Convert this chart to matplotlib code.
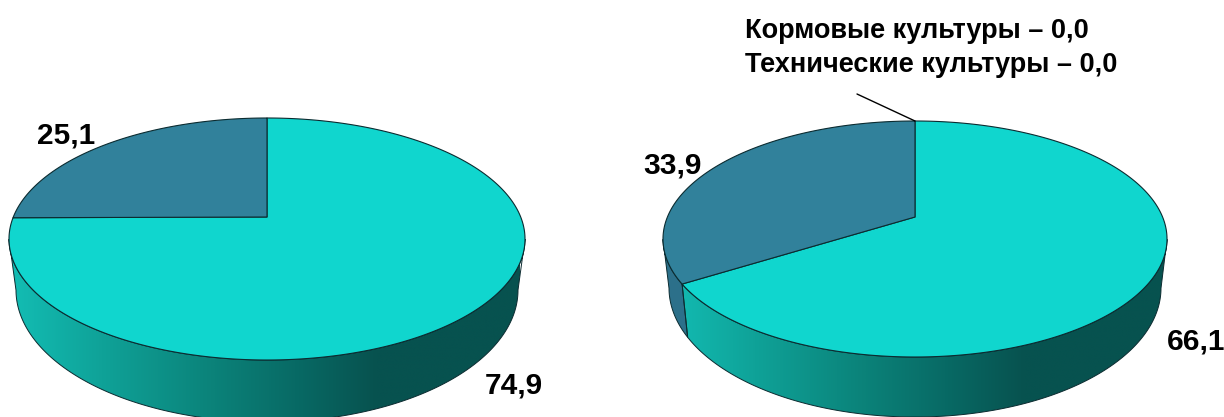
import numpy as np
import matplotlib
matplotlib.use("Agg")
import matplotlib.pyplot as plt
from matplotlib.colors import LinearSegmentedColormap
from matplotlib.patches import Polygon

# data
left_values = [74.9, 25.1]
left_labels = ["74,9", "25,1"]
right_values = [66.1, 0.0, 0.0, 33.9]
right_labels = ["66,1", "Кормовые культуры – 0,0", "Технические культуры – 0,0", "33,9"]

TOP = ["#10D6CE", "#0FD6CE", "#0FD6CE", "#31819B"]
TOP2 = ["#10D6CE", "#31819B"]
WALL_BLUE = "#2C708A"
EDGE = "#0B2B30"
plt.rcParams["font.family"] = ["Liberation Sans", "DejaVu Sans"]

fig = plt.figure(figsize=(12.24, 4.17), dpi=100)
ax = fig.add_axes([0, 0, 1, 1])
ax.set_xlim(0, 1224)
ax.set_ylim(417, 0)
ax.axis("off")

wall_cmap = LinearSegmentedColormap.from_list(
    "wall", [(0, "#13BDB4"), (0.18, "#0FA298"), (0.4, "#0B8279"),
             (0.56, "#086A65"), (0.72, "#07524F"), (1, "#07524F")])


def draw_pie(values, colors, cx, apex_y, up, down, rx, bot_rx, bot_cy, bot_ry, x0, x1):
    k = (up - down) / (up + down)
    a = up * (1 - k)
    b = rx * np.sqrt(1 - k * k)
    ey = apex_y + (down - up) / 2
    ry = (up + down) / 2

    def top_pt(th):
        u, v = np.sin(th), np.cos(th)
        d = 1 - k * v
        return cx + b * u / d, apex_y - a * v / d

    def bot_pt(x, y):
        return cx + (x - cx) / rx * bot_rx, bot_cy + (y - ey) / ry * bot_ry

    fr = np.cumsum([0] + list(values)) / sum(values)
    # walls
    for i, val in enumerate(values):
        if val <= 0:
            continue
        th = 2 * np.pi * np.linspace(fr[i], fr[i + 1], 900)
        xs, ys = top_pt(th)
        m = ys >= ey
        if not m.any():
            continue
        xs, ys = xs[m], ys[m]
        bx, by = bot_pt(xs, ys)
        pts = np.r_[np.c_[xs, ys], np.c_[bx, by][::-1]]
        if colors[i] == TOP[0]:
            poly = Polygon(pts, closed=True, fc="none", ec="none", zorder=2)
            ax.add_patch(poly)
            im = ax.imshow(np.linspace(0, 1, 512)[None, :], cmap=wall_cmap, aspect="auto",
                           extent=[x0, x1, 430, 200], zorder=2, interpolation="bilinear")
            im.set_clip_path(poly)
        else:
            ax.add_patch(Polygon(pts, closed=True, fc=WALL_BLUE, ec="none", zorder=2))
        ax.add_patch(Polygon(pts, closed=True, fc="none", ec=EDGE, lw=0.7, zorder=3))
    # top surface
    for i, val in enumerate(values):
        if val <= 0:
            continue
        th = 2 * np.pi * np.linspace(fr[i], fr[i + 1], 900)
        xs, ys = top_pt(th)
        pts = np.r_[[[cx, apex_y]], np.c_[xs, ys]]
        ax.add_patch(Polygon(pts, closed=True, fc=colors[i], ec=EDGE, lw=0.8, zorder=4, joinstyle="round"))


draw_pie(left_values, TOP2, 267, 217, 99, 143, 258, 251, 290, 132, 10, 520)
draw_pie(right_values, TOP, 915, 217, 96, 140, 252, 246, 288, 129, 665, 1165)
ax.set_xlim(0, 1224)
ax.set_ylim(417, 0)

num = dict(fontsize=21.5, fontweight="bold", color="black", va="center", ha="left", zorder=6)
ax.text(485, 385, left_labels[0], **num)
ax.text(37, 135, left_labels[1], **num)
ax.text(1167, 342, right_labels[0], **num)
ax.text(643, 165, right_labels[3], **num)
head = dict(fontsize=19.5, fontweight="bold", color="black", va="baseline", ha="left", zorder=6)
ax.text(745, 38, right_labels[1], **head)
ax.text(745, 72, right_labels[2], **head)
ax.plot([857, 915], [94, 121], color="black", lw=1.0, zorder=6, solid_capstyle="round")

fig.savefig("out.png", dpi=100)
